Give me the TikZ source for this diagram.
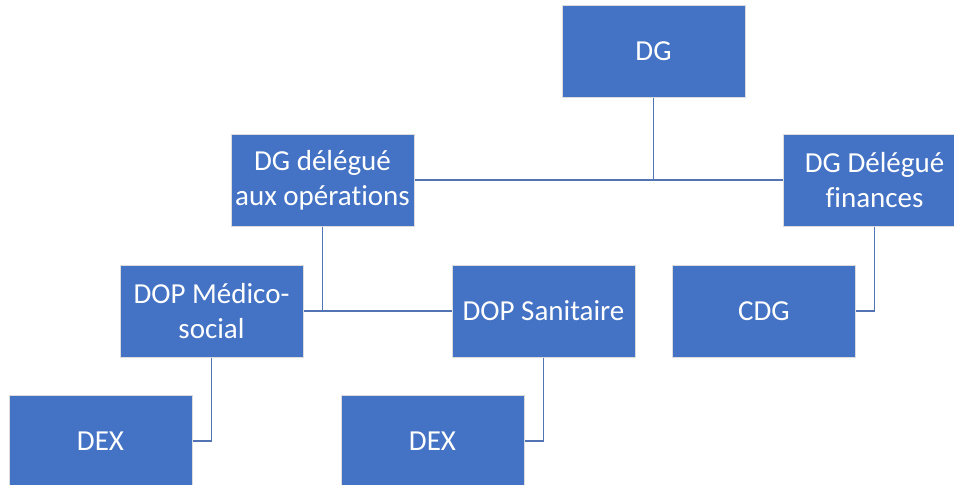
\documentclass[tikz,border=0pt]{standalone}
\usepackage{fontspec}
\setmainfont[Ligatures=NoCommon]{Carlito}
\definecolor{boxblue}{HTML}{4472C4}
\definecolor{boxedge}{HTML}{DCDCDC}
\definecolor{linkblue}{HTML}{5374B4}
\begin{document}
\begin{tikzpicture}[x=1pt,y=-1pt,
  orgbox/.style={rectangle, fill=boxblue, draw=boxedge, line width=1pt,
    minimum width=183pt, minimum height=92pt, inner sep=2pt,
    text=white, align=center, font=\fontsize{29}{35}\selectfont},
  link/.style={draw=linkblue, line width=1.6pt}]
\useasboundingbox (0,0) rectangle (954,485);
\clip (0,0) rectangle (954,485);
\fill[white] (0,0) rectangle (954,485);

% boxes
\node[orgbox] (dg)    at (653.5,51)  {DG};
\node[orgbox] (dgop)  at (322.5,180) {DG délégué\\aux opérations};
\node[orgbox] (dgfin) at (874.5,180) {DG Délégué\\finances};
\node[orgbox] (dopms) at (211.5,311) {DOP Médico-\\social};
\node[orgbox] (dops)  at (543.5,311) {DOP Sanitaire};
\node[orgbox] (cdg)   at (764,311)   {CDG};
\node[orgbox] (dexa)  at (100.5,441) {DEX};
\node[orgbox] (dexb)  at (432.5,441) {DEX};

% connectors
\draw[link] (dg.south) -- (dg.south |- dgop.east);
\draw[link] (dgop.east) -- (dgfin.west);
\draw[link] (dgop.south) -- (dgop.south |- dopms.east);
\draw[link] (dopms.east) -- (dops.west);
\draw[link] (dgfin.south) |- (cdg.east);
\draw[link] (dopms.south) |- (dexa.east);
\draw[link] (dops.south) |- (dexb.east);
\end{tikzpicture}
\end{document}
